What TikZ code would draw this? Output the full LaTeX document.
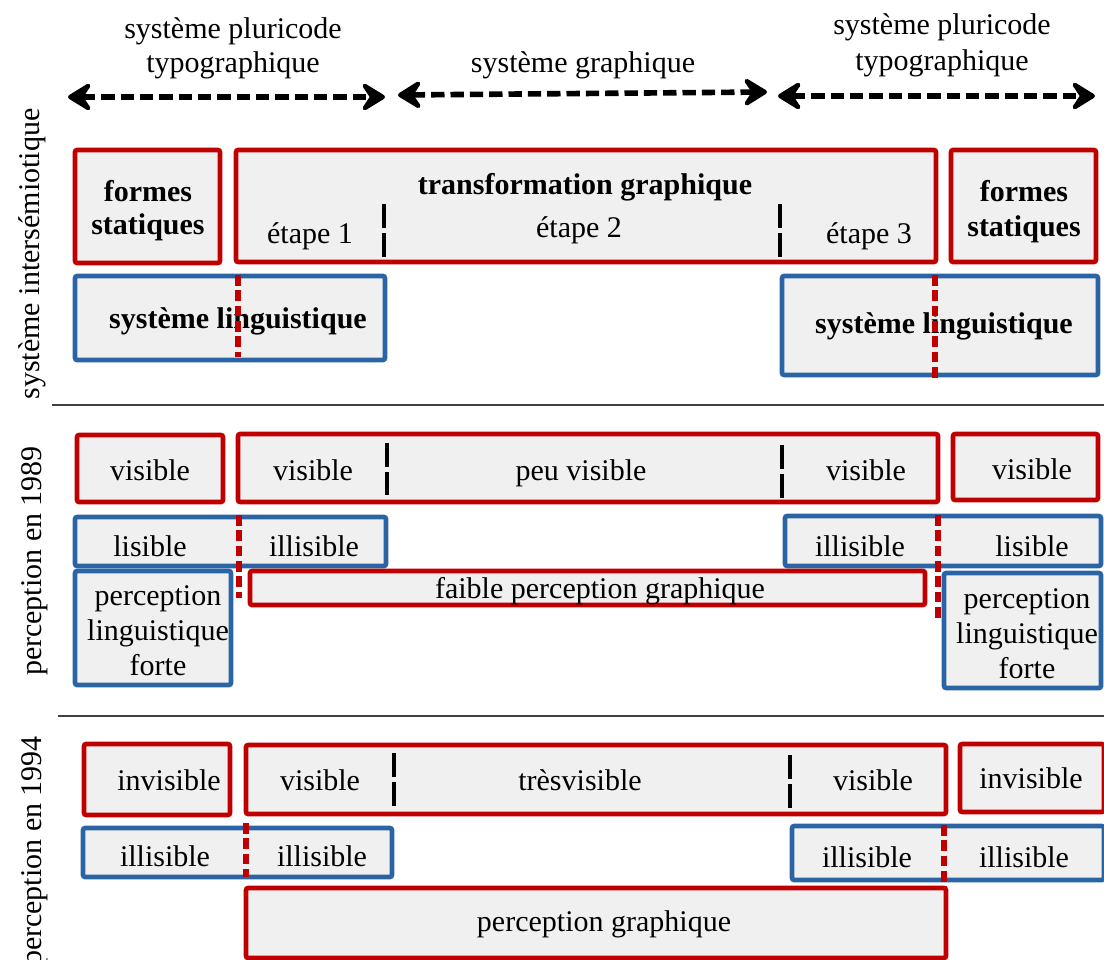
\documentclass[tikz,border=0pt]{standalone}
\usepackage{fontspec}
\setmainfont{Liberation Serif}
\usetikzlibrary{arrows.meta,fit}
\definecolor{myred}{HTML}{C00000}
\definecolor{myblue}{HTML}{2A64A4}
\definecolor{boxfill}{HTML}{F0F0F0}
\begin{document}
\begin{tikzpicture}[x=0.75pt,y=-0.75pt,
  txt/.style={anchor=base, inner sep=0pt, font=\fontsize{22.5}{26}\selectfont},
  btxt/.style={anchor=base, inner sep=0pt, font=\fontsize{22.5}{26}\selectfont\bfseries},
  redbox/.style={draw=myred, line width=3.4pt, fill=boxfill, rounded corners=1.5pt, inner sep=0pt},
  bluebox/.style={draw=myblue, line width=3.4pt, fill=boxfill, rounded corners=1.5pt, inner sep=0pt},
  stepsep/.style={black, line width=3.6pt, dash pattern=on 18pt off 4pt},
  redsep/.style={myred, line width=4pt, dash pattern=on 8pt off 3.5pt},
  darrow/.style={line width=4.2pt, dash pattern=on 10pt off 4.5pt,
     {Stealth[length=22pt,width=27pt,inset=9pt,round]}-{Stealth[length=22pt,width=27pt,inset=9pt,round]}},
  sepline/.style={draw=black!75, line width=0.9pt}
]
\useasboundingbox (0,0) rectangle (1104,960);

% ---- top labels and arrows
\node[txt] (t1a) at (233,38) {système pluricode};
\node[txt] (t1b) at (233,72) {typographique};
\node[txt] (t2) at (583,72) {système graphique};
\node[txt] (t3a) at (942,35) {système pluricode};
\node[txt] (t3b) at (942,70) {typographique};
\coordinate (a1l) at (68,97);  \coordinate (a1r) at (385,97);
\coordinate (a2l) at (398,95); \coordinate (a2r) at (767,92);
\coordinate (a3l) at (778,96); \coordinate (a3r) at (1095,96);
\draw[darrow] (a1l) -- (a1r);
\draw[darrow] (a2l) -- (a2r);
\draw[darrow] (a3l) -- (a3r);

% ---- side labels
\node[txt, rotate=90] (s1) at (40,254) {système intersémiotique};
\node[txt, rotate=90] (s2) at (41,561) {perception en 1989};
\node[txt, rotate=90] (s3) at (41,851) {perception en 1994};

% ---- separators
\coordinate (h1l) at (52,405); \coordinate (h1r) at (1104,405);
\coordinate (h2l) at (58,716); \coordinate (h2r) at (1104,716);
\draw[sepline] (h1l) -- (h1r);
\draw[sepline] (h2l) -- (h2r);

% ================= row 1
\node[redbox, fit={(75,150)(220,263)}] (fs1) {};
\node[redbox, fit={(236,150)(936,262)}] (tg) {};
\node[redbox, fit={(951,150)(1096,262)}] (fs2) {};
\node[bluebox, fit={(75,276)(385,360)}] (sl1) {};
\node[bluebox, fit={(782,276)(1098,375)}] (sl2) {};

\node[btxt] (fs1a) at (148,201) {formes};
\node[btxt] (fs1b) at (148,234) {statiques};
\node[btxt] (fs2a) at (1024,201) {formes};
\node[btxt] (fs2b) at (1024,236) {statiques};
\node[btxt] (tgt) at (585,194) {transformation graphique};
\node[txt] (e1) at (310,243) {étape 1};
\node[txt] (e2) at (579,237) {étape 2};
\node[txt] (e3) at (869,243) {étape 3};
\node[btxt] (sl1t) at (238,328) {système linguistique};
\node[btxt] (sl2t) at (944,333) {système linguistique};

\draw[stepsep] (384,204) -- (384,257);
\draw[stepsep] (780,204) -- (780,258);
\draw[redsep] (238,275) -- (238,357);
\draw[redsep] (935,275) -- (935,381);

% ================= row 2
\node[redbox, fit={(77,435)(223,502)}] (v1) {};
\node[redbox, fit={(238,434)(938,502)}] (v2) {};
\node[redbox, fit={(953,434)(1098,500)}] (v3) {};
\node[bluebox, fit={(75,517)(386,566)}] (l1) {};
\node[bluebox, fit={(785,516)(1101,566)}] (l2) {};
\node[bluebox, fit={(75,571)(231,685)}] (p1) {};
\node[redbox, fit={(250,571)(925,605)}] (fp) {};
\node[bluebox, fit={(944,573)(1101,688)}] (p2) {};

\node[txt] (v1t) at (150,480) {visible};
\node[txt] (v2a) at (313,480) {visible};
\node[txt] (v2b) at (581,480) {peu visible};
\node[txt] (v2c) at (866,480) {visible};
\node[txt] (v3t) at (1032,479) {visible};
\node[txt] (l1a) at (150,556) {lisible};
\node[txt] (l1b) at (314,556) {illisible};
\node[txt] (l2a) at (860,556) {illisible};
\node[txt] (l2b) at (1032,556) {lisible};
\node[txt] (p1a) at (158,605) {perception};
\node[txt] (p1b) at (158,640) {linguistique};
\node[txt] (p1c) at (158,675) {forte};
\node[txt] (fpt) at (600,598) {faible perception graphique};
\node[txt] (p2a) at (1027,608) {perception};
\node[txt] (p2b) at (1027,643) {linguistique};
\node[txt] (p2c) at (1027,678) {forte};

\draw[stepsep] (387,443) -- (387,495);
\draw[stepsep] (782,445) -- (782,498);
\draw[redsep] (239,515) -- (239,598);
\draw[redsep] (938,515) -- (938,621);

% ================= row 3
\node[redbox, fit={(84,744)(230,815)}] (i1) {};
\node[redbox, fit={(246,745)(946,814)}] (w2) {};
\node[redbox, fit={(960,744)(1104,812)}] (i3) {};
\node[bluebox, fit={(83,828)(392,877)}] (il1) {};
\node[bluebox, fit={(792,826)(1104,880)}] (il2) {};
\node[redbox, fit={(246,888)(946,958)}] (pg) {};

\node[txt] (i1t) at (169,790) {invisible};
\node[txt] (w2a) at (320,790) {visible};
\node[txt] (w2b) at (580,790) {trèsvisible};
\node[txt] (w2c) at (873,790) {visible};
\node[txt] (i3t) at (1031,788) {invisible};
\node[txt] (il1a) at (165,866) {illisible};
\node[txt] (il1b) at (322,866) {illisible};
\node[txt] (il2a) at (867,867) {illisible};
\node[txt] (il2b) at (1024,867) {illisible};
\node[txt] (pgt) at (604,931) {perception graphique};

\draw[stepsep] (394,753) -- (394,808);
\draw[stepsep] (790,755) -- (790,810);
\draw[redsep] (246,823) -- (246,877);
\draw[redsep] (944,825) -- (944,887);
\end{tikzpicture}
\end{document}
